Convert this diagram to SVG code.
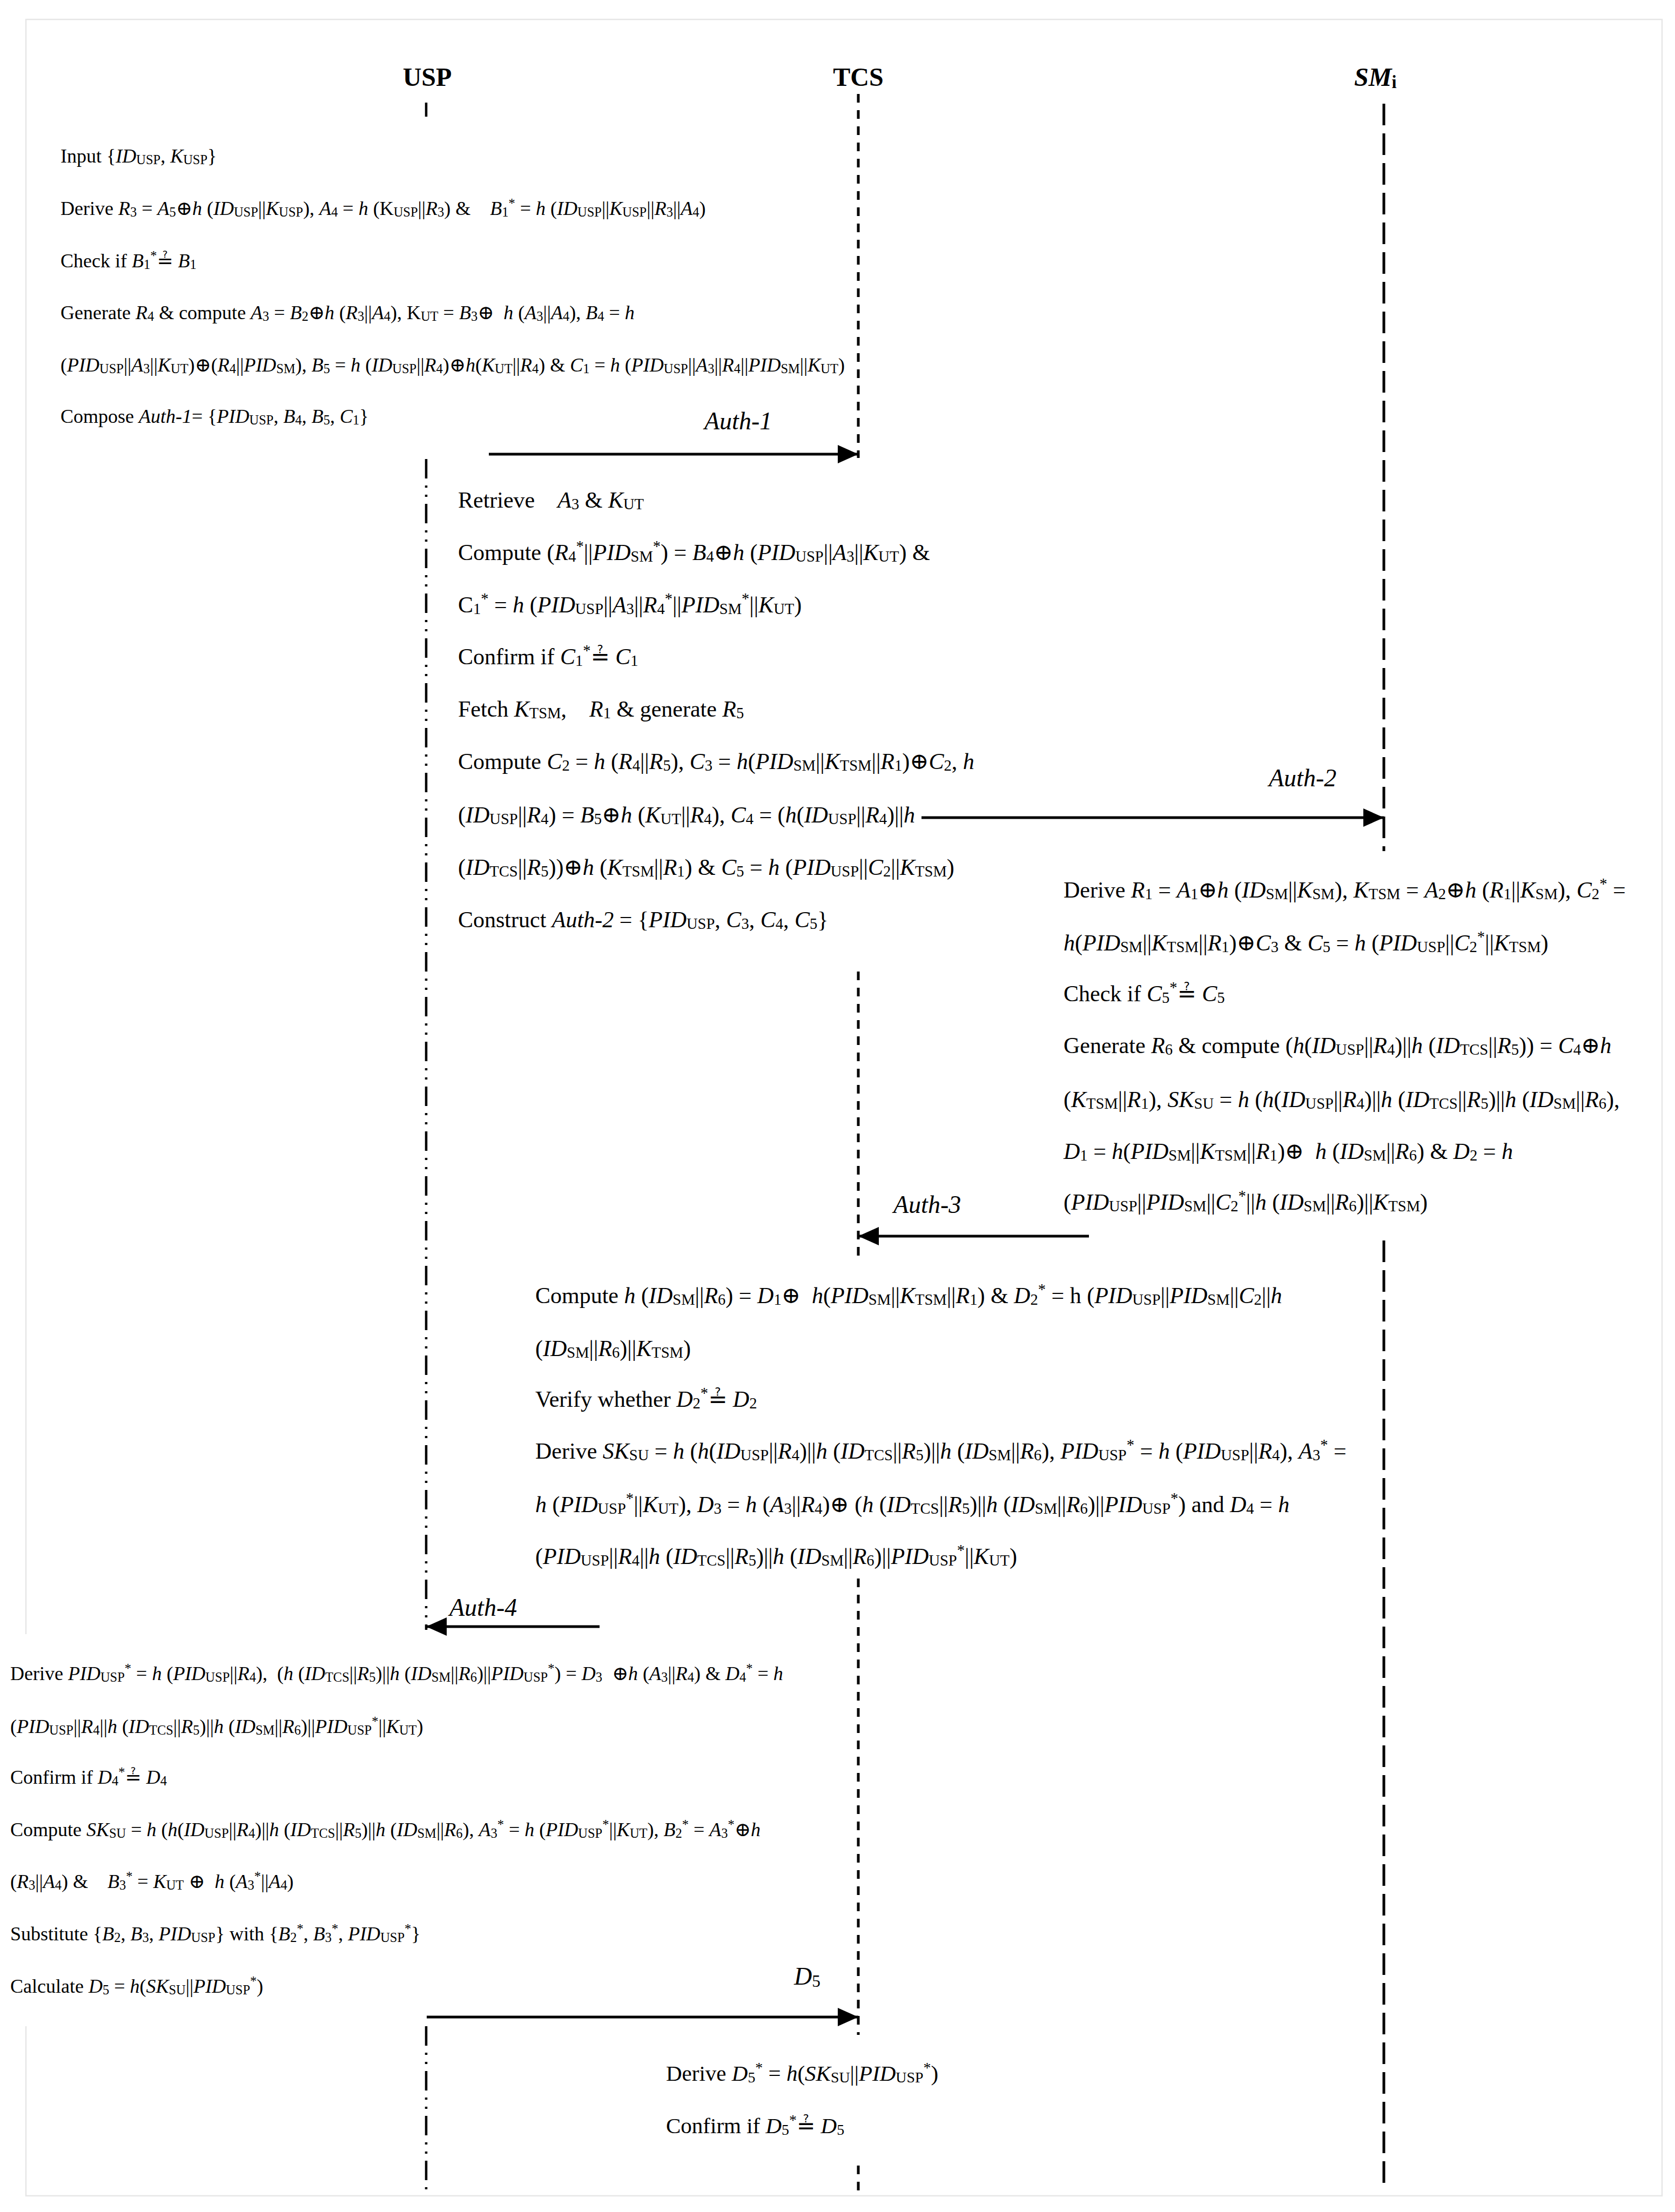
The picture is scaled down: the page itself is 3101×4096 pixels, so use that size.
<svg xmlns="http://www.w3.org/2000/svg" width="3101" height="4096" viewBox="0 0 3101 4096" xml:space="preserve">
<style>
text{font-family:"Liberation Serif","Times New Roman","DejaVu Serif","DejaVu Sans",serif;fill:#000;white-space:pre}
.a{font-size:36px}
.b{font-size:42px}
.c{font-size:41px}
.hd{font-size:48px;font-weight:bold;text-anchor:middle}
.lab{font-size:46px;font-style:italic}
.i{font-style:italic}
.s{font-size:68%;baseline-shift:-0.12em}
.p{font-size:68%;baseline-shift:0.55em}
.lu{stroke:#000;stroke-width:4.5;fill:none;stroke-dasharray:36 13 4 13 4 13}
.lt{stroke:#000;stroke-width:5;fill:none;stroke-dasharray:16 14}
.ls{stroke:#000;stroke-width:5;fill:none;stroke-dasharray:40 15}
.ar{stroke:#000;stroke-width:5;fill:none;marker-end:url(#ah)}
</style>
<defs>
<marker id="ah" markerUnits="userSpaceOnUse" markerWidth="38" markerHeight="34" refX="38" refY="17" orient="auto"><path d="M0,0 L38,17 L0,34 z" fill="#000"/></marker>
</defs>
<rect width="3101" height="4096" fill="#fff"/>
<path d="M48,3026 V36 H3077 V4066 H48 V3752" fill="none" stroke="#e6e6e6" stroke-width="2.5"/>
<g id="usp">
<text class="hd" x="791" y="159">USP</text>
<line x1="789" y1="190" x2="789" y2="216" stroke="#000" stroke-width="4.5"/>
<line class="lu" x1="789" y1="850" x2="789" y2="3018"/>
<line class="lu" x1="789" y1="3752" x2="789" y2="4066"/>
</g>
<g id="tcs">
<text class="hd" x="1589" y="159">TCS</text>
<line class="lt" x1="1589" y1="174" x2="1589" y2="848"/>
<line class="lt" x1="1589" y1="1799" x2="1589" y2="2328"/>
<line class="lt" x1="1589" y1="2923" x2="1589" y2="3768"/>
<line class="lt" x1="1589" y1="4010" x2="1589" y2="4056"/>
</g>
<g id="smi">
<text x="2507" y="159" style="font-size:48px;font-weight:bold"><tspan class="i">SM</tspan><tspan class="s">i</tspan></text>
<line class="ls" x1="2562" y1="192" x2="2562" y2="1576"/>
<line class="ls" x1="2562" y1="2297" x2="2562" y2="4056"/>
</g>
<g id="usp-step1" class="a">
<text x="112" y="301">Input {<tspan class="i">ID</tspan><tspan class="s">USP</tspan>, <tspan class="i">K</tspan><tspan class="s">USP</tspan>}</text>
<text x="112" y="398">Derive <tspan class="i">R</tspan><tspan class="s">3</tspan> = <tspan class="i">A</tspan><tspan class="s">5</tspan>⊕<tspan class="i">h</tspan> (<tspan class="i">ID</tspan><tspan class="s">USP</tspan>||<tspan class="i">K</tspan><tspan class="s">USP</tspan>), <tspan class="i">A</tspan><tspan class="s">4</tspan> = <tspan class="i">h</tspan> (K<tspan class="s">USP</tspan>||<tspan class="i">R</tspan><tspan class="s">3</tspan>) &amp;    <tspan class="i">B</tspan><tspan class="s">1</tspan><tspan class="p">*</tspan> = <tspan class="i">h</tspan> (<tspan class="i">ID</tspan><tspan class="s">USP</tspan>||<tspan class="i">K</tspan><tspan class="s">USP</tspan>||<tspan class="i">R</tspan><tspan class="s">3</tspan>||<tspan class="i">A</tspan><tspan class="s">4</tspan>)</text>
<text x="112" y="495">Check if <tspan class="i">B</tspan><tspan class="s">1</tspan><tspan class="p">*</tspan>≟ <tspan class="i">B</tspan><tspan class="s">1</tspan></text>
<text x="112" y="591">Generate <tspan class="i">R</tspan><tspan class="s">4</tspan> &amp; compute <tspan class="i">A</tspan><tspan class="s">3</tspan> = <tspan class="i">B</tspan><tspan class="s">2</tspan>⊕<tspan class="i">h</tspan> (<tspan class="i">R</tspan><tspan class="s">3</tspan>||<tspan class="i">A</tspan><tspan class="s">4</tspan>), K<tspan class="s">UT</tspan> = <tspan class="i">B</tspan><tspan class="s">3</tspan>⊕  <tspan class="i">h</tspan> (<tspan class="i">A</tspan><tspan class="s">3</tspan>||<tspan class="i">A</tspan><tspan class="s">4</tspan>), <tspan class="i">B</tspan><tspan class="s">4</tspan> = <tspan class="i">h</tspan></text>
<text x="112" y="688">(<tspan class="i">PID</tspan><tspan class="s">USP</tspan>||<tspan class="i">A</tspan><tspan class="s">3</tspan>||<tspan class="i">K</tspan><tspan class="s">UT</tspan>)⊕(<tspan class="i">R</tspan><tspan class="s">4</tspan>||<tspan class="i">PID</tspan><tspan class="s">SM</tspan>), <tspan class="i">B</tspan><tspan class="s">5</tspan> = <tspan class="i">h</tspan> (<tspan class="i">ID</tspan><tspan class="s">USP</tspan>||<tspan class="i">R</tspan><tspan class="s">4</tspan>)⊕<tspan class="i">h</tspan>(<tspan class="i">K</tspan><tspan class="s">UT</tspan>||<tspan class="i">R</tspan><tspan class="s">4</tspan>) &amp; <tspan class="i">C</tspan><tspan class="s">1</tspan> = <tspan class="i">h</tspan> (<tspan class="i">PID</tspan><tspan class="s">USP</tspan>||<tspan class="i">A</tspan><tspan class="s">3</tspan>||<tspan class="i">R</tspan><tspan class="s">4</tspan>||<tspan class="i">PID</tspan><tspan class="s">SM</tspan>||<tspan class="i">K</tspan><tspan class="s">UT</tspan>)</text>
<text x="112" y="783">Compose <tspan class="i">Auth-1</tspan>= {<tspan class="i">PID</tspan><tspan class="s">USP</tspan>, <tspan class="i">B</tspan><tspan class="s">4</tspan>, <tspan class="i">B</tspan><tspan class="s">5</tspan>, <tspan class="i">C</tspan><tspan class="s">1</tspan>}</text>
</g>
<g id="tcs-step1" class="b">
<text x="848" y="940">Retrieve    <tspan class="i">A</tspan><tspan class="s">3</tspan> &amp; <tspan class="i">K</tspan><tspan class="s">UT</tspan></text>
<text x="848" y="1037">Compute (<tspan class="i">R</tspan><tspan class="s">4</tspan><tspan class="p">*</tspan>||<tspan class="i">PID</tspan><tspan class="s">SM</tspan><tspan class="p">*</tspan>) = <tspan class="i">B</tspan><tspan class="s">4</tspan>⊕<tspan class="i">h</tspan> (<tspan class="i">PID</tspan><tspan class="s">USP</tspan>||<tspan class="i">A</tspan><tspan class="s">3</tspan>||<tspan class="i">K</tspan><tspan class="s">UT</tspan>) &amp;</text>
<text x="848" y="1134">C<tspan class="s">1</tspan><tspan class="p">*</tspan> = <tspan class="i">h</tspan> (<tspan class="i">PID</tspan><tspan class="s">USP</tspan>||<tspan class="i">A</tspan><tspan class="s">3</tspan>||<tspan class="i">R</tspan><tspan class="s">4</tspan><tspan class="p">*</tspan>||<tspan class="i">PID</tspan><tspan class="s">SM</tspan><tspan class="p">*</tspan>||<tspan class="i">K</tspan><tspan class="s">UT</tspan>)</text>
<text x="848" y="1230">Confirm if <tspan class="i">C</tspan><tspan class="s">1</tspan><tspan class="p">*</tspan>≟ <tspan class="i">C</tspan><tspan class="s">1</tspan></text>
<text x="848" y="1327">Fetch <tspan class="i">K</tspan><tspan class="s">TSM</tspan>,    <tspan class="i">R</tspan><tspan class="s">1</tspan> &amp; generate <tspan class="i">R</tspan><tspan class="s">5</tspan></text>
<text x="848" y="1424">Compute <tspan class="i">C</tspan><tspan class="s">2</tspan> = <tspan class="i">h</tspan> (<tspan class="i">R</tspan><tspan class="s">4</tspan>||<tspan class="i">R</tspan><tspan class="s">5</tspan>), <tspan class="i">C</tspan><tspan class="s">3</tspan> = <tspan class="i">h</tspan>(<tspan class="i">PID</tspan><tspan class="s">SM</tspan>||<tspan class="i">K</tspan><tspan class="s">TSM</tspan>||<tspan class="i">R</tspan><tspan class="s">1</tspan>)⊕<tspan class="i">C</tspan><tspan class="s">2</tspan>, <tspan class="i">h</tspan></text>
<text x="848" y="1523">(<tspan class="i">ID</tspan><tspan class="s">USP</tspan>||<tspan class="i">R</tspan><tspan class="s">4</tspan>) = <tspan class="i">B</tspan><tspan class="s">5</tspan>⊕<tspan class="i">h</tspan> (<tspan class="i">K</tspan><tspan class="s">UT</tspan>||<tspan class="i">R</tspan><tspan class="s">4</tspan>), <tspan class="i">C</tspan><tspan class="s">4</tspan> = (<tspan class="i">h</tspan>(<tspan class="i">ID</tspan><tspan class="s">USP</tspan>||<tspan class="i">R</tspan><tspan class="s">4</tspan>)||<tspan class="i">h</tspan></text>
<text x="848" y="1620">(<tspan class="i">ID</tspan><tspan class="s">TCS</tspan>||<tspan class="i">R</tspan><tspan class="s">5</tspan>))⊕<tspan class="i">h</tspan> (<tspan class="i">K</tspan><tspan class="s">TSM</tspan>||<tspan class="i">R</tspan><tspan class="s">1</tspan>) &amp; <tspan class="i">C</tspan><tspan class="s">5</tspan> = <tspan class="i">h</tspan> (<tspan class="i">PID</tspan><tspan class="s">USP</tspan>||<tspan class="i">C</tspan><tspan class="s">2</tspan>||<tspan class="i">K</tspan><tspan class="s">TSM</tspan>)</text>
<text x="848" y="1717">Construct <tspan class="i">Auth-2</tspan> = {<tspan class="i">PID</tspan><tspan class="s">USP</tspan>, <tspan class="i">C</tspan><tspan class="s">3</tspan>, <tspan class="i">C</tspan><tspan class="s">4</tspan>, <tspan class="i">C</tspan><tspan class="s">5</tspan>}</text>
</g>
<g id="sm-step" class="b">
<text x="1969" y="1662">Derive <tspan class="i">R</tspan><tspan class="s">1</tspan> = <tspan class="i">A</tspan><tspan class="s">1</tspan>⊕<tspan class="i">h</tspan> (<tspan class="i">ID</tspan><tspan class="s">SM</tspan>||<tspan class="i">K</tspan><tspan class="s">SM</tspan>), <tspan class="i">K</tspan><tspan class="s">TSM</tspan> = <tspan class="i">A</tspan><tspan class="s">2</tspan>⊕<tspan class="i">h</tspan> (<tspan class="i">R</tspan><tspan class="s">1</tspan>||<tspan class="i">K</tspan><tspan class="s">SM</tspan>), <tspan class="i">C</tspan><tspan class="s">2</tspan><tspan class="p">*</tspan> =</text>
<text x="1969" y="1760"><tspan class="i">h</tspan>(<tspan class="i">PID</tspan><tspan class="s">SM</tspan>||<tspan class="i">K</tspan><tspan class="s">TSM</tspan>||<tspan class="i">R</tspan><tspan class="s">1</tspan>)⊕<tspan class="i">C</tspan><tspan class="s">3</tspan> &amp; <tspan class="i">C</tspan><tspan class="s">5</tspan> = <tspan class="i">h</tspan> (<tspan class="i">PID</tspan><tspan class="s">USP</tspan>||<tspan class="i">C</tspan><tspan class="s">2</tspan><tspan class="p">*</tspan>||<tspan class="i">K</tspan><tspan class="s">TSM</tspan>)</text>
<text x="1969" y="1854">Check if <tspan class="i">C</tspan><tspan class="s">5</tspan><tspan class="p">*</tspan>≟ <tspan class="i">C</tspan><tspan class="s">5</tspan></text>
<text x="1969" y="1950">Generate <tspan class="i">R</tspan><tspan class="s">6</tspan> &amp; compute (<tspan class="i">h</tspan>(<tspan class="i">ID</tspan><tspan class="s">USP</tspan>||<tspan class="i">R</tspan><tspan class="s">4</tspan>)||<tspan class="i">h</tspan> (<tspan class="i">ID</tspan><tspan class="s">TCS</tspan>||<tspan class="i">R</tspan><tspan class="s">5</tspan>)) = <tspan class="i">C</tspan><tspan class="s">4</tspan>⊕<tspan class="i">h</tspan></text>
<text x="1969" y="2050">(<tspan class="i">K</tspan><tspan class="s">TSM</tspan>||<tspan class="i">R</tspan><tspan class="s">1</tspan>), <tspan class="i">SK</tspan><tspan class="s">SU</tspan> = <tspan class="i">h</tspan> (<tspan class="i">h</tspan>(<tspan class="i">ID</tspan><tspan class="s">USP</tspan>||<tspan class="i">R</tspan><tspan class="s">4</tspan>)||<tspan class="i">h</tspan> (<tspan class="i">ID</tspan><tspan class="s">TCS</tspan>||<tspan class="i">R</tspan><tspan class="s">5</tspan>)||<tspan class="i">h</tspan> (<tspan class="i">ID</tspan><tspan class="s">SM</tspan>||<tspan class="i">R</tspan><tspan class="s">6</tspan>),</text>
<text x="1969" y="2146"><tspan class="i">D</tspan><tspan class="s">1</tspan> = <tspan class="i">h</tspan>(<tspan class="i">PID</tspan><tspan class="s">SM</tspan>||<tspan class="i">K</tspan><tspan class="s">TSM</tspan>||<tspan class="i">R</tspan><tspan class="s">1</tspan>)⊕  <tspan class="i">h</tspan> (<tspan class="i">ID</tspan><tspan class="s">SM</tspan>||<tspan class="i">R</tspan><tspan class="s">6</tspan>) &amp; <tspan class="i">D</tspan><tspan class="s">2</tspan> = <tspan class="i">h</tspan></text>
<text x="1969" y="2240">(<tspan class="i">PID</tspan><tspan class="s">USP</tspan>||<tspan class="i">PID</tspan><tspan class="s">SM</tspan>||<tspan class="i">C</tspan><tspan class="s">2</tspan><tspan class="p">*</tspan>||<tspan class="i">h</tspan> (<tspan class="i">ID</tspan><tspan class="s">SM</tspan>||<tspan class="i">R</tspan><tspan class="s">6</tspan>)||<tspan class="i">K</tspan><tspan class="s">TSM</tspan>)</text>
</g>
<g id="tcs-step2" class="b">
<text x="991" y="2413">Compute <tspan class="i">h</tspan> (<tspan class="i">ID</tspan><tspan class="s">SM</tspan>||<tspan class="i">R</tspan><tspan class="s">6</tspan>) = <tspan class="i">D</tspan><tspan class="s">1</tspan>⊕  <tspan class="i">h</tspan>(<tspan class="i">PID</tspan><tspan class="s">SM</tspan>||<tspan class="i">K</tspan><tspan class="s">TSM</tspan>||<tspan class="i">R</tspan><tspan class="s">1</tspan>) &amp; <tspan class="i">D</tspan><tspan class="s">2</tspan><tspan class="p">*</tspan> = h (<tspan class="i">PID</tspan><tspan class="s">USP</tspan>||<tspan class="i">PID</tspan><tspan class="s">SM</tspan>||<tspan class="i">C</tspan><tspan class="s">2</tspan>||<tspan class="i">h</tspan></text>
<text x="991" y="2511">(<tspan class="i">ID</tspan><tspan class="s">SM</tspan>||<tspan class="i">R</tspan><tspan class="s">6</tspan>)||<tspan class="i">K</tspan><tspan class="s">TSM</tspan>)</text>
<text x="991" y="2605">Verify whether <tspan class="i">D</tspan><tspan class="s">2</tspan><tspan class="p">*</tspan>≟ <tspan class="i">D</tspan><tspan class="s">2</tspan></text>
<text x="991" y="2701">Derive <tspan class="i">SK</tspan><tspan class="s">SU</tspan> = <tspan class="i">h</tspan> (<tspan class="i">h</tspan>(<tspan class="i">ID</tspan><tspan class="s">USP</tspan>||<tspan class="i">R</tspan><tspan class="s">4</tspan>)||<tspan class="i">h</tspan> (<tspan class="i">ID</tspan><tspan class="s">TCS</tspan>||<tspan class="i">R</tspan><tspan class="s">5</tspan>)||<tspan class="i">h</tspan> (<tspan class="i">ID</tspan><tspan class="s">SM</tspan>||<tspan class="i">R</tspan><tspan class="s">6</tspan>), <tspan class="i">PID</tspan><tspan class="s">USP</tspan><tspan class="p">*</tspan> = <tspan class="i">h</tspan> (<tspan class="i">PID</tspan><tspan class="s">USP</tspan>||<tspan class="i">R</tspan><tspan class="s">4</tspan>), <tspan class="i">A</tspan><tspan class="s">3</tspan><tspan class="p">*</tspan> =</text>
<text x="991" y="2800"><tspan class="i">h</tspan> (<tspan class="i">PID</tspan><tspan class="s">USP</tspan><tspan class="p">*</tspan>||<tspan class="i">K</tspan><tspan class="s">UT</tspan>), <tspan class="i">D</tspan><tspan class="s">3</tspan> = <tspan class="i">h</tspan> (<tspan class="i">A</tspan><tspan class="s">3</tspan>||<tspan class="i">R</tspan><tspan class="s">4</tspan>)⊕ (<tspan class="i">h</tspan> (<tspan class="i">ID</tspan><tspan class="s">TCS</tspan>||<tspan class="i">R</tspan><tspan class="s">5</tspan>)||<tspan class="i">h</tspan> (<tspan class="i">ID</tspan><tspan class="s">SM</tspan>||<tspan class="i">R</tspan><tspan class="s">6</tspan>)||<tspan class="i">PID</tspan><tspan class="s">USP</tspan><tspan class="p">*</tspan>) and <tspan class="i">D</tspan><tspan class="s">4</tspan> = <tspan class="i">h</tspan></text>
<text x="991" y="2896">(<tspan class="i">PID</tspan><tspan class="s">USP</tspan>||<tspan class="i">R</tspan><tspan class="s">4</tspan>||<tspan class="i">h</tspan> (<tspan class="i">ID</tspan><tspan class="s">TCS</tspan>||<tspan class="i">R</tspan><tspan class="s">5</tspan>)||<tspan class="i">h</tspan> (<tspan class="i">ID</tspan><tspan class="s">SM</tspan>||<tspan class="i">R</tspan><tspan class="s">6</tspan>)||<tspan class="i">PID</tspan><tspan class="s">USP</tspan><tspan class="p">*</tspan>||<tspan class="i">K</tspan><tspan class="s">UT</tspan>)</text>
</g>
<g id="usp-step2" class="a">
<text x="19" y="3111">Derive <tspan class="i">PID</tspan><tspan class="s">USP</tspan><tspan class="p">*</tspan> = <tspan class="i">h</tspan> (<tspan class="i">PID</tspan><tspan class="s">USP</tspan>||<tspan class="i">R</tspan><tspan class="s">4</tspan>),  (<tspan class="i">h</tspan> (<tspan class="i">ID</tspan><tspan class="s">TCS</tspan>||<tspan class="i">R</tspan><tspan class="s">5</tspan>)||<tspan class="i">h</tspan> (<tspan class="i">ID</tspan><tspan class="s">SM</tspan>||<tspan class="i">R</tspan><tspan class="s">6</tspan>)||<tspan class="i">PID</tspan><tspan class="s">USP</tspan><tspan class="p">*</tspan>) = <tspan class="i">D</tspan><tspan class="s">3</tspan>  ⊕<tspan class="i">h</tspan> (<tspan class="i">A</tspan><tspan class="s">3</tspan>||<tspan class="i">R</tspan><tspan class="s">4</tspan>) &amp; <tspan class="i">D</tspan><tspan class="s">4</tspan><tspan class="p">*</tspan> = <tspan class="i">h</tspan></text>
<text x="19" y="3209">(<tspan class="i">PID</tspan><tspan class="s">USP</tspan>||<tspan class="i">R</tspan><tspan class="s">4</tspan>||<tspan class="i">h</tspan> (<tspan class="i">ID</tspan><tspan class="s">TCS</tspan>||<tspan class="i">R</tspan><tspan class="s">5</tspan>)||<tspan class="i">h</tspan> (<tspan class="i">ID</tspan><tspan class="s">SM</tspan>||<tspan class="i">R</tspan><tspan class="s">6</tspan>)||<tspan class="i">PID</tspan><tspan class="s">USP</tspan><tspan class="p">*</tspan>||<tspan class="i">K</tspan><tspan class="s">UT</tspan>)</text>
<text x="19" y="3303">Confirm if <tspan class="i">D</tspan><tspan class="s">4</tspan><tspan class="p">*</tspan>≟ <tspan class="i">D</tspan><tspan class="s">4</tspan></text>
<text x="19" y="3400">Compute <tspan class="i">SK</tspan><tspan class="s">SU</tspan> = <tspan class="i">h</tspan> (<tspan class="i">h</tspan>(<tspan class="i">ID</tspan><tspan class="s">USP</tspan>||<tspan class="i">R</tspan><tspan class="s">4</tspan>)||<tspan class="i">h</tspan> (<tspan class="i">ID</tspan><tspan class="s">TCS</tspan>||<tspan class="i">R</tspan><tspan class="s">5</tspan>)||<tspan class="i">h</tspan> (<tspan class="i">ID</tspan><tspan class="s">SM</tspan>||<tspan class="i">R</tspan><tspan class="s">6</tspan>), <tspan class="i">A</tspan><tspan class="s">3</tspan><tspan class="p">*</tspan> = <tspan class="i">h</tspan> (<tspan class="i">PID</tspan><tspan class="s">USP</tspan><tspan class="p">*</tspan>||<tspan class="i">K</tspan><tspan class="s">UT</tspan>), <tspan class="i">B</tspan><tspan class="s">2</tspan><tspan class="p">*</tspan> = <tspan class="i">A</tspan><tspan class="s">3</tspan><tspan class="p">*</tspan>⊕<tspan class="i">h</tspan></text>
<text x="19" y="3496">(<tspan class="i">R</tspan><tspan class="s">3</tspan>||<tspan class="i">A</tspan><tspan class="s">4</tspan>) &amp;    <tspan class="i">B</tspan><tspan class="s">3</tspan><tspan class="p">*</tspan> = <tspan class="i">K</tspan><tspan class="s">UT</tspan> ⊕  <tspan class="i">h</tspan> (<tspan class="i">A</tspan><tspan class="s">3</tspan><tspan class="p">*</tspan>||<tspan class="i">A</tspan><tspan class="s">4</tspan>)</text>
<text x="19" y="3593">Substitute {<tspan class="i">B</tspan><tspan class="s">2</tspan>, <tspan class="i">B</tspan><tspan class="s">3</tspan>, <tspan class="i">PID</tspan><tspan class="s">USP</tspan>} with {<tspan class="i">B</tspan><tspan class="s">2</tspan><tspan class="p">*</tspan>, <tspan class="i">B</tspan><tspan class="s">3</tspan><tspan class="p">*</tspan>, <tspan class="i">PID</tspan><tspan class="s">USP</tspan><tspan class="p">*</tspan>}</text>
<text x="19" y="3690">Calculate <tspan class="i">D</tspan><tspan class="s">5</tspan> = <tspan class="i">h</tspan>(<tspan class="i">SK</tspan><tspan class="s">SU</tspan>||<tspan class="i">PID</tspan><tspan class="s">USP</tspan><tspan class="p">*</tspan>)</text>
</g>
<g id="tcs-step3" class="c">
<text x="1233" y="3853">Derive <tspan class="i">D</tspan><tspan class="s">5</tspan><tspan class="p">*</tspan> = <tspan class="i">h</tspan>(<tspan class="i">SK</tspan><tspan class="s">SU</tspan>||<tspan class="i">PID</tspan><tspan class="s">USP</tspan><tspan class="p">*</tspan>)</text>
<text x="1233" y="3950">Confirm if <tspan class="i">D</tspan><tspan class="s">5</tspan><tspan class="p">*</tspan>≟ <tspan class="i">D</tspan><tspan class="s">5</tspan></text>
</g>
<g id="connectors">
<line class="ar" x1="905" y1="841" x2="1589" y2="841"/>
<text class="lab" x="1304" y="795">Auth-1</text>
<line class="ar" x1="1706" y1="1514" x2="2562" y2="1514"/>
<text class="lab" x="2349" y="1456">Auth-2</text>
<line class="ar" x1="2016" y1="2289" x2="1589" y2="2289"/>
<text class="lab" x="1654" y="2246">Auth-3</text>
<line class="ar" x1="1110" y1="3012" x2="789" y2="3012"/>
<text class="lab" x="832" y="2992">Auth-4</text>
<line class="ar" x1="790" y1="3735" x2="1589" y2="3735"/>
<text class="lab" x="1470" y="3675">D<tspan class="s" style="font-style:normal">5</tspan></text>
</g>
</svg>
